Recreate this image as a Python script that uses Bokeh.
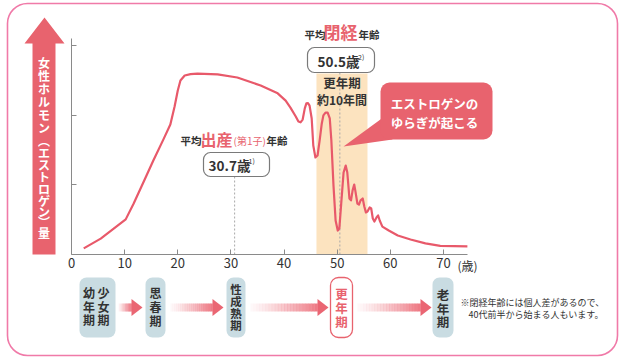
from bokeh.plotting import figure
from bokeh.models import Range1d, BoxAnnotation, Label, FixedTicker, LinearAxis
from bokeh.embed import file_html
from bokeh.resources import INLINE

# ---------------- data ----------------
ages = [2.3, 5.5, 10.2, 11.7, 13.6, 15.4, 17.3, 18.6, 19.4, 20.0, 20.5, 21.3, 22.4, 23.7,
        27.5, 31.2, 35.6, 38.8, 40.3, 41.2, 42.2, 42.7, 43.1, 43.5, 43.9, 44.2, 44.5, 44.8,
        45.2, 45.5, 45.9, 46.3, 46.7, 47.1, 47.4, 47.8, 48.2, 48.6, 48.9, 49.3, 49.7, 50.1,
        50.4, 50.8, 51.2, 51.6, 51.9, 52.3, 52.6, 52.9, 53.2, 53.4, 53.8, 54.1, 54.4, 54.8,
        55.1, 55.4, 55.7, 56.1, 56.4, 56.7, 57.0, 57.4, 57.7, 58.0, 58.5, 59.7, 61.4, 63.8,
        66.6, 69.4, 74.5]
levels = [2.2, 5.7, 12.6, 18.3, 26.2, 33.7, 41.3, 46.6, 53.1, 58.8, 62.4, 64.2, 64.7, 64.9,
          64.6, 63.5, 60.6, 57.8, 55.2, 52.7, 49.5, 47.7, 47.4, 48.4, 52.4, 54.2, 54.3, 53.4,
          48.8, 39.1, 34.8, 35.5, 40.9, 47.0, 49.9, 50.9, 50.9, 48.8, 40.9, 24.8, 12.2, 8.6,
          9.3, 19.4, 29.4, 31.9, 29.4, 20.1, 19.4, 23.0, 25.1, 23.0, 18.3, 17.9, 19.4, 20.1,
          17.2, 15.1, 15.4, 16.9, 16.5, 12.9, 11.8, 13.3, 14.0, 12.2, 10.0, 8.6, 6.8, 5.4,
          4.0, 3.1, 2.9]
x_ticks = [0, 10, 20, 30, 40, 50, 60, 70]
y_ticks = [25, 50, 75]
x_unit = "(歳)"
y_title = "女性ホルモン(エストロゲン)量"
climacteric_start = 46.1
climacteric_end = 55.7
climacteric_label = ["更年期", "約10年間"]
menopause_age = 50.5
menopause_title = ["平均", "閉経", "年齢"]
birth_age = 30.7
birth_title = ["平均", "出産", "(第1子)", "年齢"]
callout_lines = ["エストロゲンの", "ゆらぎが起こる"]
stage_names = ["少女期", "幼年期", "思春期", "性成熟期", "更年期", "老年期"]
note_lines = ["※閉経年齢には個人差があるので、", "40代前半から始まる人もいます。"]

# ---------------- layout helpers ----------------
FONT = "Noto Sans CJK JP"
DARK = "#333333"
PINK = "#e8636e"
CURVE = "#e8596a"
X0, PXA = 71.0, 5.314     # page px of age 0, px per year
Y0, PXL = 254.0, 2.788    # page px of level 0, px per level unit


def ax(X):
    return (X - X0) / PXA


def ly(Y):
    return (Y0 - Y) / PXL


p = figure(width=625, height=360, output_backend="svg", toolbar_location=None,
           x_range=Range1d(ax(0), ax(625)), y_range=Range1d(ly(360), ly(0)),
           x_axis_location=None, y_axis_location=None, min_border=0)
p.outline_line_color = None
p.grid.visible = False
p.background_fill_color = "white"
p.border_fill_color = "white"


def lab(X, Y, text, size, color=DARK, bold=True, align="left", baseline="middle"):
    p.add_layout(Label(x=ax(X), y=ly(Y), text=text, text_font=FONT,
                       text_font_size=f"{size}px",
                       text_font_style="bold" if bold else "normal",
                       text_color=color, text_align=align, text_baseline=baseline))


def box(X1, X2, Y1, Y2, fill, line=None, lw=1.0, r=6):
    p.add_layout(BoxAnnotation(left=ax(X1), right=ax(X2), top=ly(Y1), bottom=ly(Y2),
                               fill_color=fill, fill_alpha=1.0 if fill else 0,
                               line_color=line, line_width=lw, line_alpha=1.0,
                               border_radius=r))


def vtext(chars, X, Ys, size, color=DARK, bold=True):
    for ch, Y in zip(chars, Ys):
        lab(X, Y, ch, size, color, bold, align="center")


# climacteric band
p.quad(left=[climacteric_start], right=[climacteric_end], bottom=[0], top=[ly(73)],
       fill_color="#fce3bf", line_color=None)

# reference dotted lines
p.segment(x0=[birth_age, menopause_age], x1=[birth_age, menopause_age],
          y0=[0, 0], y1=[ly(176), ly(72)], line_color="#a8a8a8",
          line_dash="2 2", line_width=1)

# curve
p.line(ages, levels, line_color=CURVE, line_width=2.2, line_join="round")

# axes
xa = LinearAxis(fixed_location=0, bounds=(0, ax(467)), ticker=FixedTicker(ticks=x_ticks))
xa.axis_line_color = "#8a8a8a"
xa.major_tick_line_color = "#8a8a8a"
xa.major_tick_in = 5
xa.major_tick_out = 0
xa.minor_tick_line_color = None
xa.major_label_text_font = FONT
xa.major_label_text_font_size = "13px"
xa.major_label_text_color = DARK
xa.major_label_standoff = 3
p.add_layout(xa, "below")

ya = LinearAxis(fixed_location=0, bounds=(0, ly(38)), ticker=FixedTicker(ticks=y_ticks))
ya.axis_line_color = "#8a8a8a"
ya.major_tick_line_color = "#8a8a8a"
ya.major_tick_in = 5
ya.major_tick_out = 0
ya.minor_tick_line_color = None
ya.major_label_text_color = None
ya.major_label_text_font_size = "1px"
p.add_layout(ya, "left")

lab(457, 265, x_unit, 12, bold=False)

# left arrow with vertical title
AX = [44, 64, 55, 55, 32, 32, 24]
AY = [17, 43, 43, 254, 254, 43, 43]
p.patch([ax(v) for v in AX], [ly(v) for v in AY], fill_color=PINK, line_color=None)
vchars = y_title.replace("(", "︵").replace(")", "︶")
vys = [62, 75, 88, 101, 114, 127, 140, 152, 164, 176, 188, 200, 211, 221, 232]
vtext(vchars, 43.5, vys, 12, color="white")

# band text
lab(341.5, 82, climacteric_label[0], 12.5, align="center")
lab(341.5, 99, climacteric_label[1], 12, align="center")

# menopause header + box
lab(304, 34, menopause_title[0], 10.5)
lab(323, 30.5, menopause_title[1], 17, color=PINK)
lab(358, 34, menopause_title[2], 10.5)
box(307, 374, 47, 72, "white", "#7a7a7a", 1.2, 7)
lab(338, 60, f"{menopause_age}歳", 13.5, align="center")
lab(357.5, 56, "2)", 7, bold=False)

# first birth header + box
lab(180, 140, birth_title[0], 10.5)
lab(200, 138.5, birth_title[1], 16, color=PINK)
lab(233, 140, birth_title[2], 10, color=PINK, bold=False)
lab(266, 140, birth_title[3], 10.5)
box(203, 269, 152, 176, "white", "#7a7a7a", 1.2, 7)
lab(229, 164, f"{birth_age}歳", 13.5, align="center")
lab(248, 160, "1)", 7, bold=False)

# callout
box(380, 492, 82, 139, PINK, None, 0, 9)
TX = [343, 384, 392]
TY = [146, 116, 139]
p.patch([ax(v) for v in TX], [ly(v) for v in TY], fill_color=PINK, line_color=None)
lab(434, 102.5, callout_lines[0], 12.5, color="white", align="center")
lab(434, 121.5, callout_lines[1], 12.5, color="white", align="center")

# life stages
BLUE = "#c9dce2"
box(79, 115, 277, 337, BLUE, None, 0, 7)
box(145, 165, 277, 337, BLUE, None, 0, 7)
box(226, 245, 277, 337, BLUE, None, 0, 7)
box(330, 352, 277, 337, "white", PINK, 1.3, 8)
box(432, 453, 277, 337, BLUE, None, 0, 7)
vtext(stage_names[0], 103, [292, 305.5, 319], 12)
vtext(stage_names[1], 88.5, [292, 305.5, 319], 12)
vtext(stage_names[2], 155, [292, 306, 320], 12)
vtext(stage_names[3], 235.5, [288, 300, 312, 324.5], 11.5)
vtext(stage_names[4], 341, [293, 307, 321], 12.5, color=PINK)
vtext(stage_names[5], 442.5, [294, 307.5, 321], 12.5)


def arrow(xs, xt, n=22):
    hb = xt - 11
    step = (hb - xs) / n
    lefts, rights, alphas = [], [], []
    for i in range(n):
        lefts.append(ax(xs + i * step))
        rights.append(ax(xs + (i + 1) * step + 0.3))
        alphas.append(0.04 + 0.9 * ((i + 0.5) / n) ** 1.3)
    p.quad(left=lefts, right=rights, bottom=[ly(311)] * n, top=[ly(303)] * n,
           fill_color="#ec6f7b", fill_alpha=alphas, line_color=None)
    p.patch([ax(hb), ax(xt), ax(hb)], [ly(298.5), ly(307), ly(315.5)],
            fill_color="#ea6673", line_color=None)


arrow(118, 142)
arrow(170, 223)
arrow(250, 328)
arrow(357, 431)

lab(460, 302, note_lines[0], 9, bold=False)
lab(468, 314, note_lines[1], 9, bold=False)

# outer frame
box(7, 617, 3, 355, None, "#f07aa8", 1.6, 20)

open("out.html", "w").write(file_html(p, INLINE))
